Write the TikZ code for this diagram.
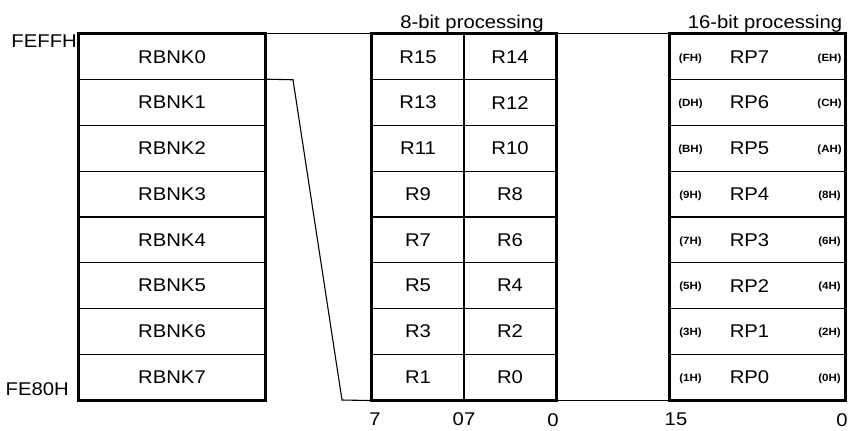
\documentclass[tikz,border=0pt]{standalone}
\usepackage{fontspec}
\setmainfont{Liberation Sans}[FakeStretch=1.1]
\newcommand\bigtxt{\fontsize{18.5}{21}\selectfont}
\newcommand\smalltxt{\fontsize{10.5}{12}\selectfont\bfseries}
\begin{document}
\begin{tikzpicture}[x=1bp,y=-1bp,
  cell/.style={draw, line width=1.1bp, minimum height=45.75bp, inner sep=0pt, font=\bigtxt},
  txt/.style={inner sep=0pt, font=\bigtxt},
  smalllab/.style={inner sep=0pt, font=\smalltxt},
  thickbox/.style={line width=2.8bp},
  conn/.style={line width=1.1bp}]
\useasboundingbox (0,0) rectangle (851,430);
% left bank column
\foreach \i in {0,...,7}{
  \node[cell, minimum width=186bp] (rb\i) at (172,{34+45.75*(\i+0.5)}) {RBNK\i};
}
\draw[thickbox] (rb0.north west) rectangle (rb7.south east);
% 8-bit column
\foreach \j/\a/\b in {0/R15/R14,1/R13/R12,2/R11/R10,3/R9/R8,4/R7/R6,5/R5/R4,6/R3/R2,7/R1/R0}{
  \node[cell, minimum width=92bp] (ml\j) at (418,{34+45.75*(\j+0.5)}) {\a};
  \node[cell, minimum width=92bp] (mr\j) at (510,{34+45.75*(\j+0.5)}) {\b};
}
\draw[thickbox] (ml0.north west) rectangle (mr7.south east);
% 16-bit column
\foreach \j/\h/\p/\l in {0/FH/RP7/EH,1/DH/RP6/CH,2/BH/RP5/AH,3/9H/RP4/8H,4/7H/RP3/6H,5/5H/RP2/4H,6/3H/RP1/2H,7/1H/RP0/0H}{
  \node[cell, minimum width=175bp] (rr\j) at (757.5,{34+45.75*(\j+0.5)}) {};
  \node[smalllab] (hi\j) at ([xshift=21bp,yshift=-1.5bp]rr\j.west) {(\h)};
  \node[txt] (rp\j) at ([xshift=-8bp]rr\j.center) {\p};
  \node[smalllab] (lo\j) at ([xshift=-16bp,yshift=-1.5bp]rr\j.east) {(\l)};
}
\draw[thickbox] (rr0.north west) rectangle (rr7.south east);
% connectors
\coordinate (bend) at (293,79.75);
\coordinate (foot) at (342,400);
\draw[conn] (rb0.north east) -- (ml0.north west);
\draw[conn] (rb1.north east) -- (bend) -- (foot) -- (ml7.south west);
\draw[conn] (mr0.north east) -- (rr0.north west);
\draw[conn] (mr7.south east) -- (rr7.south west);
% labels
\node[txt, anchor=base east] (ffh) at (77,47) {FEFFH};
\node[txt, anchor=base east] (e80) at (69,395) {FE80H};
\node[txt, anchor=base] (t8) at (472,28) {8-bit processing};
\node[txt, anchor=base] (t16) at (765,28) {16-bit processing};
\node[txt, anchor=base] (n7) at (375,425) {7};
\node[txt, anchor=base] (n07) at (464,425) {07};
\node[txt, anchor=base] (n0a) at (553,426) {0};
\node[txt, anchor=base] (n15) at (676,425) {15};
\node[txt, anchor=base] (n0b) at (842,426) {0};
\end{tikzpicture}
\end{document}
